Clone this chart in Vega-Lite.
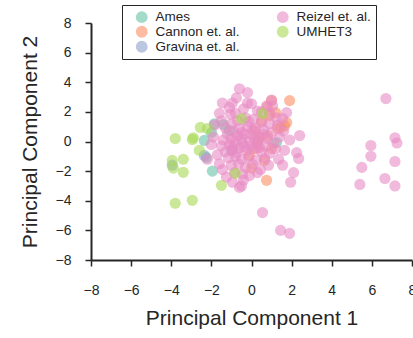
{
  "$schema": "https://vega.github.io/schema/vega-lite/v6.json",
  "width": 321,
  "height": 237,
  "autosize": "none",
  "padding": {"left": 91, "top": 23, "right": 1, "bottom": 78},
  "background": "white",
  "config": {
    "font": "Liberation Sans",
    "view": {"stroke": null},
    "axis": {
      "grid": false,
      "domainColor": "#262626",
      "domainWidth": 2,
      "tickColor": "#262626",
      "tickWidth": 1.5,
      "tickSize": 6,
      "labelFontSize": 14,
      "labelColor": "#262626",
      "titleFontSize": 21,
      "titleFontWeight": "normal",
      "titleColor": "#262626"
    }
  },
  "datasets": {
    "pts": [
      {"pc1": -1.85, "pc2": 1.2, "study": "Ames"},
      {"pc1": -1.4, "pc2": 1.15, "study": "Ames"},
      {"pc1": -2.35, "pc2": 0.07, "study": "Ames"},
      {"pc1": -2.25, "pc2": -1.08, "study": "Ames"},
      {"pc1": -1.95, "pc2": -2.0, "study": "Ames"},
      {"pc1": 1.25, "pc2": -0.07, "study": "Ames"},
      {"pc1": -1.1, "pc2": 0.74, "study": "Ames"},
      {"pc1": -2.0, "pc2": 0.6, "study": "Ames"},
      {"pc1": 1.9, "pc2": 2.76, "study": "Cannon et. al."},
      {"pc1": 1.0, "pc2": 2.76, "study": "Cannon et. al."},
      {"pc1": 0.8, "pc2": 2.35, "study": "Cannon et. al."},
      {"pc1": 1.75, "pc2": 1.28, "study": "Cannon et. al."},
      {"pc1": 1.45, "pc2": 0.94, "study": "Cannon et. al."},
      {"pc1": 0.4, "pc2": 0.27, "study": "Cannon et. al."},
      {"pc1": 0.3, "pc2": 0.07, "study": "Cannon et. al."},
      {"pc1": 0.25, "pc2": -0.47, "study": "Cannon et. al."},
      {"pc1": 1.0, "pc2": -0.47, "study": "Cannon et. al."},
      {"pc1": 0.0, "pc2": -1.8, "study": "Cannon et. al."},
      {"pc1": 0.75, "pc2": -2.62, "study": "Cannon et. al."},
      {"pc1": 0.5, "pc2": 1.4, "study": "Cannon et. al."},
      {"pc1": 0.9, "pc2": 1.75, "study": "Cannon et. al."},
      {"pc1": 1.2, "pc2": 1.95, "study": "Cannon et. al."},
      {"pc1": 0.65, "pc2": -1.28, "study": "Cannon et. al."},
      {"pc1": 0.8, "pc2": 0.4, "study": "Cannon et. al."},
      {"pc1": -0.1, "pc2": -0.94, "study": "Cannon et. al."},
      {"pc1": 1.3, "pc2": 0.87, "study": "Cannon et. al."},
      {"pc1": 0.15, "pc2": 0.74, "study": "Cannon et. al."},
      {"pc1": 1.65, "pc2": 1.05, "study": "Cannon et. al."},
      {"pc1": -3.95, "pc2": -1.6, "study": "Gravina et. al."},
      {"pc1": -2.35, "pc2": -0.94, "study": "Gravina et. al."},
      {"pc1": -1.0, "pc2": -0.6, "study": "Gravina et. al."},
      {"pc1": 6.7, "pc2": 2.9, "study": "Reizel et. al."},
      {"pc1": 7.15, "pc2": 0.25, "study": "Reizel et. al."},
      {"pc1": 7.25, "pc2": -0.1, "study": "Reizel et. al."},
      {"pc1": 5.95, "pc2": -0.27, "study": "Reizel et. al."},
      {"pc1": 5.95, "pc2": -1.0, "study": "Reizel et. al."},
      {"pc1": 7.15, "pc2": -1.35, "study": "Reizel et. al."},
      {"pc1": 5.5, "pc2": -1.75, "study": "Reizel et. al."},
      {"pc1": 6.65, "pc2": -2.5, "study": "Reizel et. al."},
      {"pc1": 5.4, "pc2": -2.9, "study": "Reizel et. al."},
      {"pc1": 7.15, "pc2": -3.0, "study": "Reizel et. al."},
      {"pc1": 0.55, "pc2": -4.8, "study": "Reizel et. al."},
      {"pc1": 1.45, "pc2": -6.0, "study": "Reizel et. al."},
      {"pc1": 1.9, "pc2": -6.2, "study": "Reizel et. al."},
      {"pc1": 1.95, "pc2": -2.75, "study": "Reizel et. al."},
      {"pc1": -0.6, "pc2": -3.1, "study": "Reizel et. al."},
      {"pc1": -0.5, "pc2": -3.0, "study": "Reizel et. al."},
      {"pc1": -0.95, "pc2": -2.75, "study": "Reizel et. al."},
      {"pc1": 2.1, "pc2": -2.1, "study": "Reizel et. al."},
      {"pc1": 2.4, "pc2": 0.4, "study": "Reizel et. al."},
      {"pc1": 2.25, "pc2": -0.75, "study": "Reizel et. al."},
      {"pc1": 2.35, "pc2": -1.15, "study": "Reizel et. al."},
      {"pc1": 1.65, "pc2": -0.6, "study": "Reizel et. al."},
      {"pc1": 1.9, "pc2": 0.1, "study": "Reizel et. al."},
      {"pc1": 1.55, "pc2": 1.55, "study": "Reizel et. al."},
      {"pc1": 1.75, "pc2": 1.95, "study": "Reizel et. al."},
      {"pc1": 1.3, "pc2": 1.1, "study": "Reizel et. al."},
      {"pc1": 1.6, "pc2": 0.7, "study": "Reizel et. al."},
      {"pc1": -0.6, "pc2": 3.56, "study": "Reizel et. al."},
      {"pc1": -0.2, "pc2": 3.3, "study": "Reizel et. al."},
      {"pc1": -0.75, "pc2": 2.95, "study": "Reizel et. al."},
      {"pc1": -1.45, "pc2": 2.6, "study": "Reizel et. al."},
      {"pc1": -0.95, "pc2": 2.6, "study": "Reizel et. al."},
      {"pc1": 0.0, "pc2": 2.55, "study": "Reizel et. al."},
      {"pc1": 0.75, "pc2": 2.4, "study": "Reizel et. al."},
      {"pc1": 1.05, "pc2": 2.4, "study": "Reizel et. al."},
      {"pc1": -0.4, "pc2": 2.2, "study": "Reizel et. al."},
      {"pc1": 0.3, "pc2": 2.05, "study": "Reizel et. al."},
      {"pc1": -1.6, "pc2": 1.9, "study": "Reizel et. al."},
      {"pc1": -1.5, "pc2": 1.4, "study": "Reizel et. al."},
      {"pc1": -1.05, "pc2": 1.85, "study": "Reizel et. al."},
      {"pc1": 0.9, "pc2": 1.9, "study": "Reizel et. al."},
      {"pc1": 1.25, "pc2": 1.6, "study": "Reizel et. al."},
      {"pc1": -1.3, "pc2": 0.9, "study": "Reizel et. al."},
      {"pc1": -1.0, "pc2": 1.2, "study": "Reizel et. al."},
      {"pc1": -0.7, "pc2": 1.4, "study": "Reizel et. al."},
      {"pc1": -0.3, "pc2": 1.6, "study": "Reizel et. al."},
      {"pc1": 0.1, "pc2": 1.5, "study": "Reizel et. al."},
      {"pc1": 0.5, "pc2": 1.3, "study": "Reizel et. al."},
      {"pc1": 0.9, "pc2": 1.2, "study": "Reizel et. al."},
      {"pc1": -1.2, "pc2": 0.5, "study": "Reizel et. al."},
      {"pc1": -0.9, "pc2": 0.7, "study": "Reizel et. al."},
      {"pc1": -0.6, "pc2": 0.9, "study": "Reizel et. al."},
      {"pc1": -0.2, "pc2": 1.0, "study": "Reizel et. al."},
      {"pc1": 0.2, "pc2": 0.9, "study": "Reizel et. al."},
      {"pc1": 0.6, "pc2": 0.8, "study": "Reizel et. al."},
      {"pc1": 1.0, "pc2": 0.6, "study": "Reizel et. al."},
      {"pc1": -1.4, "pc2": 0.1, "study": "Reizel et. al."},
      {"pc1": -1.0, "pc2": 0.2, "study": "Reizel et. al."},
      {"pc1": -0.7, "pc2": 0.4, "study": "Reizel et. al."},
      {"pc1": -0.35, "pc2": 0.5, "study": "Reizel et. al."},
      {"pc1": 0.0, "pc2": 0.45, "study": "Reizel et. al."},
      {"pc1": 0.4, "pc2": 0.3, "study": "Reizel et. al."},
      {"pc1": 0.8, "pc2": 0.2, "study": "Reizel et. al."},
      {"pc1": -1.5, "pc2": -0.3, "study": "Reizel et. al."},
      {"pc1": -1.1, "pc2": -0.2, "study": "Reizel et. al."},
      {"pc1": -0.8, "pc2": 0.0, "study": "Reizel et. al."},
      {"pc1": -0.45, "pc2": -0.1, "study": "Reizel et. al."},
      {"pc1": -0.1, "pc2": 0.05, "study": "Reizel et. al."},
      {"pc1": 0.3, "pc2": -0.15, "study": "Reizel et. al."},
      {"pc1": 0.7, "pc2": -0.3, "study": "Reizel et. al."},
      {"pc1": 1.1, "pc2": -0.1, "study": "Reizel et. al."},
      {"pc1": -1.3, "pc2": -0.7, "study": "Reizel et. al."},
      {"pc1": -0.95, "pc2": -0.55, "study": "Reizel et. al."},
      {"pc1": -0.6, "pc2": -0.45, "study": "Reizel et. al."},
      {"pc1": -0.25, "pc2": -0.6, "study": "Reizel et. al."},
      {"pc1": 0.1, "pc2": -0.5, "study": "Reizel et. al."},
      {"pc1": 0.5, "pc2": -0.7, "study": "Reizel et. al."},
      {"pc1": 0.9, "pc2": -0.8, "study": "Reizel et. al."},
      {"pc1": -1.15, "pc2": -1.1, "study": "Reizel et. al."},
      {"pc1": -0.8, "pc2": -1.0, "study": "Reizel et. al."},
      {"pc1": -0.5, "pc2": -1.2, "study": "Reizel et. al."},
      {"pc1": -0.15, "pc2": -1.05, "study": "Reizel et. al."},
      {"pc1": 0.25, "pc2": -1.25, "study": "Reizel et. al."},
      {"pc1": 0.65, "pc2": -1.15, "study": "Reizel et. al."},
      {"pc1": -1.0, "pc2": -1.6, "study": "Reizel et. al."},
      {"pc1": -0.65, "pc2": -1.5, "study": "Reizel et. al."},
      {"pc1": -0.3, "pc2": -1.75, "study": "Reizel et. al."},
      {"pc1": 0.05, "pc2": -1.55, "study": "Reizel et. al."},
      {"pc1": 0.45, "pc2": -1.9, "study": "Reizel et. al."},
      {"pc1": -0.85, "pc2": -2.1, "study": "Reizel et. al."},
      {"pc1": -0.45, "pc2": -2.2, "study": "Reizel et. al."},
      {"pc1": -0.1, "pc2": -2.3, "study": "Reizel et. al."},
      {"pc1": -1.7, "pc2": -0.9, "study": "Reizel et. al."},
      {"pc1": -1.9, "pc2": 0.3, "study": "Reizel et. al."},
      {"pc1": -1.6, "pc2": -1.5, "study": "Reizel et. al."},
      {"pc1": -0.2, "pc2": 2.6, "study": "Reizel et. al."},
      {"pc1": 0.5, "pc2": 2.0, "study": "Reizel et. al."},
      {"pc1": -0.8, "pc2": 1.9, "study": "Reizel et. al."},
      {"pc1": 1.35, "pc2": -1.2, "study": "Reizel et. al."},
      {"pc1": 1.2, "pc2": -0.5, "study": "Reizel et. al."},
      {"pc1": 1.4, "pc2": 0.3, "study": "Reizel et. al."},
      {"pc1": -1.25, "pc2": -2.4, "study": "Reizel et. al."},
      {"pc1": -0.4, "pc2": -2.6, "study": "Reizel et. al."},
      {"pc1": 0.3, "pc2": -2.1, "study": "Reizel et. al."},
      {"pc1": -1.85, "pc2": 1.1, "study": "Reizel et. al."},
      {"pc1": -2.0, "pc2": -0.2, "study": "Reizel et. al."},
      {"pc1": -0.05, "pc2": -0.3, "study": "Reizel et. al."},
      {"pc1": -0.5, "pc2": 0.2, "study": "Reizel et. al."},
      {"pc1": 0.15, "pc2": 0.2, "study": "Reizel et. al."},
      {"pc1": -0.35, "pc2": -0.35, "study": "Reizel et. al."},
      {"pc1": 0.4, "pc2": -0.4, "study": "Reizel et. al."},
      {"pc1": -0.75, "pc2": -0.75, "study": "Reizel et. al."},
      {"pc1": -0.5, "pc2": 0.6, "study": "Reizel et. al."},
      {"pc1": 0.05, "pc2": 0.8, "study": "Reizel et. al."},
      {"pc1": -0.95, "pc2": -0.3, "study": "Reizel et. al."},
      {"pc1": 0.6, "pc2": 0.5, "study": "Reizel et. al."},
      {"pc1": -0.15, "pc2": 1.35, "study": "Reizel et. al."},
      {"pc1": -1.1, "pc2": 2.3, "study": "Reizel et. al."},
      {"pc1": 1.55, "pc2": -1.6, "study": "Reizel et. al."},
      {"pc1": -1.45, "pc2": -1.9, "study": "Reizel et. al."},
      {"pc1": -2.2, "pc2": -1.2, "study": "Reizel et. al."},
      {"pc1": 0.85, "pc2": -1.6, "study": "Reizel et. al."},
      {"pc1": 1.0, "pc2": 2.8, "study": "Reizel et. al."},
      {"pc1": -3.8, "pc2": 0.2, "study": "UMHET3"},
      {"pc1": -2.95, "pc2": 0.13, "study": "UMHET3"},
      {"pc1": -2.55, "pc2": 0.95, "study": "UMHET3"},
      {"pc1": -2.2, "pc2": 0.87, "study": "UMHET3"},
      {"pc1": -2.6, "pc2": -0.6, "study": "UMHET3"},
      {"pc1": -3.95, "pc2": -1.28, "study": "UMHET3"},
      {"pc1": -3.4, "pc2": -1.2, "study": "UMHET3"},
      {"pc1": -3.9, "pc2": -1.8, "study": "UMHET3"},
      {"pc1": -3.4, "pc2": -2.08, "study": "UMHET3"},
      {"pc1": -3.8, "pc2": -4.17, "study": "UMHET3"},
      {"pc1": -2.95, "pc2": -3.97, "study": "UMHET3"},
      {"pc1": -1.5, "pc2": -2.96, "study": "UMHET3"},
      {"pc1": -0.8, "pc2": -2.15, "study": "UMHET3"},
      {"pc1": -0.5, "pc2": 1.55, "study": "UMHET3"},
      {"pc1": 0.55, "pc2": 1.88, "study": "UMHET3"},
      {"pc1": -2.9, "pc2": 0.25, "study": "UMHET3"}
    ]
  },
  "data": {"name": "pts"},
  "mark": {"type": "circle", "size": 125, "opacity": 0.6, "strokeWidth": 0},
  "encoding": {
    "x": {
      "field": "pc1", "type": "quantitative",
      "scale": {"domain": [-8, 8], "nice": false, "zero": false},
      "axis": {"values": [-8, -6, -4, -2, 0, 2, 4, 6, 8], "title": "Principal Component 1", "labelPadding": 17, "titlePadding": 10, "labelFlush": false}
    },
    "y": {
      "field": "pc2", "type": "quantitative",
      "scale": {"domain": [-8, 8], "nice": false, "zero": false},
      "axis": {"values": [-8, -6, -4, -2, 0, 2, 4, 6, 8], "title": "Principal Component 2", "labelPadding": 14, "titlePadding": 15, "labelFlush": false}
    },
    "color": {
      "field": "study", "type": "nominal",
      "scale": {
        "domain": ["Ames", "Cannon et. al.", "Gravina et. al.", "Reizel et. al.", "UMHET3"],
        "range": ["#66c2a5", "#fc8d62", "#8da0cb", "#e78ac3", "#a6d854"]
      },
      "legend": {
        "orient": "none", "legendX": 31, "legendY": -18, "columns": 2, "title": null,
        "strokeColor": "#262626", "fillColor": "white", "padding": 5,
        "labelFontSize": 13.5, "labelColor": "#262626", "symbolSize": 140, "symbolOpacity": 0.6,
        "symbolStrokeWidth": 0, "symbolType": "circle", "symbolOffset": 8, "rowPadding": 0, "columnPadding": 28, "labelOffset": 7
      }
    }
  }
}
